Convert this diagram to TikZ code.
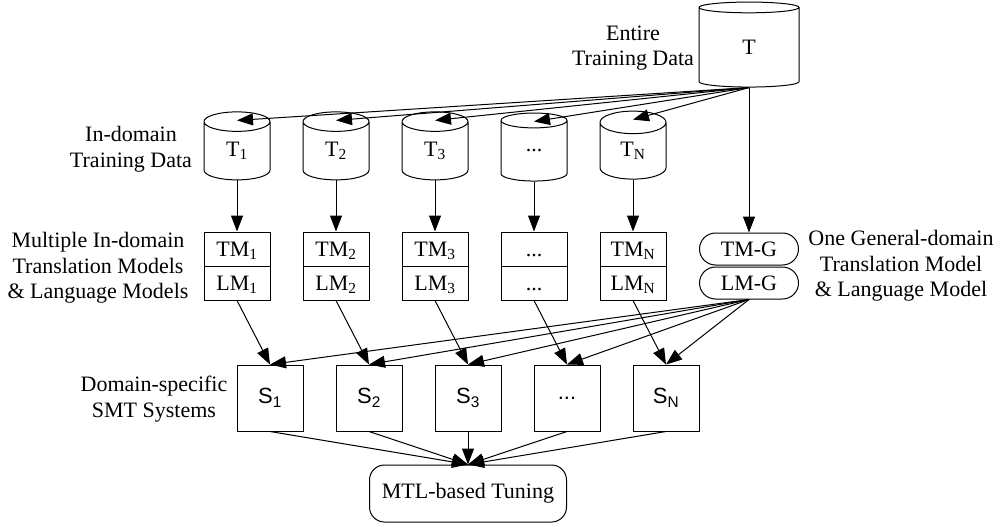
\documentclass[tikz,border=0pt]{standalone}
\usepackage{fontspec}
\setmainfont{Liberation Serif}
\setsansfont{Liberation Sans}
\usetikzlibrary{shapes,arrows.meta}
\newcommand{\partstrut}{\rule[-5pt]{0pt}{25pt}}
\newcommand{\modelblock}[4]{node[modelbox](#1) at (#2) {\nodepart{one}\partstrut #3 \nodepart{two}\partstrut #4}}

\begin{document}
\begin{tikzpicture}[x=1pt,y=-1pt,line width=1pt,
      every node/.style={font=\fontsize{22}{25.5}\selectfont, inner sep=0pt},
      pointer/.style={-{Triangle[length=16pt,width=12pt]},draw=black},
      store/.style={cylinder, shape border rotate=90, aspect=0.9, draw=black, minimum width=66, minimum height=68},
      modelbox/.style={rectangle split, rectangle split parts=2, draw=black, minimum width=66, inner ysep=4pt},
      genbox/.style={rounded rectangle, draw=black, minimum width=99, minimum height=32},
      sysbox/.style={rectangle, draw=black, minimum size=66, font=\fontsize{22}{25.5}\sffamily},
      caption/.style={align=center}
      ]
      \useasboundingbox (0,0) rectangle (998,527);
      % data
      \node[store, aspect=0.8, minimum width=100, minimum height=85] (T) at (749,47.5) {T};
      \node[store] (t1) at (237,151) {T\textsubscript{1}};
      \node[store] (t2) at (336,151) {T\textsubscript{2}};
      \node[store] (t3) at (435,151) {T\textsubscript{3}};
      \node[store] (t4) at (534,151) {...};
      \node[store] (tn) at (633,151) {T\textsubscript{N}};
      % models
      \path \modelblock{m1}{237,266}{TM\textsubscript{1}}{LM\textsubscript{1}};
      \path \modelblock{m2}{336,266}{TM\textsubscript{2}}{LM\textsubscript{2}};
      \path \modelblock{m3}{435,266}{TM\textsubscript{3}}{LM\textsubscript{3}};
      \path \modelblock{m4}{534,266}{...}{...};
      \path \modelblock{mn}{633,266}{TM\textsubscript{N}}{LM\textsubscript{N}};
      \node[genbox] (tmg) at (749,249) {TM-G};
      \node[genbox] (lmg) at (749,283) {LM-G};
      % systems
      \node[sysbox] (s1) at (270,398) {S\textsubscript{1}};
      \node[sysbox] (s2) at (369,398) {S\textsubscript{2}};
      \node[sysbox] (s3) at (468,398) {S\textsubscript{3}};
      \node[sysbox] (s4) at (567,398) {...};
      \node[sysbox] (sn) at (666,398) {S\textsubscript{N}};
      \node[draw=black, rounded corners=15, minimum width=197, minimum height=57] (mtl) at (468,493.5) {MTL-based Tuning};
      % captions
      \node[caption] (entire) at (633,48) {Entire\\Training Data};
      \node[caption] (indomain) at (131,149) {In-domain\\Training Data};
      \node[caption] (multiple) at (98,268) {Multiple In-domain\\Translation Models\\\& Language Models};
      \node[caption] (general) at (901,266) {One General-domain\\Translation Model\\\& Language Model};
      \node[caption] (specific) at (154,399) {Domain-specific\\SMT Systems};
      % edges
      \path (T.south) edge [pointer] ([yshift=-9pt]t1.north);
      \path (T.south) edge [pointer] ([yshift=-9pt]t2.north);
      \path (T.south) edge [pointer] ([yshift=-9pt]t3.north);
      \path (T.south) edge [pointer] ([yshift=-9pt]t4.north);
      \path (T.south) edge [pointer] ([yshift=-9pt]tn.north);
      \path (T.south) edge [pointer] (tmg.north);
      \path (t1.south) edge [pointer] (m1.north);
      \path (t2.south) edge [pointer] (m2.north);
      \path (t3.south) edge [pointer] (m3.north);
      \path (t4.south) edge [pointer] (m4.north);
      \path (tn.south) edge [pointer] (mn.north);
      \path (m1.south) edge [pointer] (s1.north);
      \path (m2.south) edge [pointer] (s2.north);
      \path (m3.south) edge [pointer] (s3.north);
      \path (m4.south) edge [pointer] (s4.north);
      \path (mn.south) edge [pointer] (sn.north);
      \path (lmg.south) edge [pointer] (s1.north);
      \path (lmg.south) edge [pointer] (s2.north);
      \path (lmg.south) edge [pointer] (s3.north);
      \path (lmg.south) edge [pointer] (s4.north);
      \path (lmg.south) edge [pointer] (sn.north);
      \path (s1.south) edge [pointer] (mtl.north);
      \path (s2.south) edge [pointer] (mtl.north);
      \path (s3.south) edge [pointer] (mtl.north);
      \path (s4.south) edge [pointer] (mtl.north);
      \path (sn.south) edge [pointer] (mtl.north);
\end{tikzpicture}
\end{document}
